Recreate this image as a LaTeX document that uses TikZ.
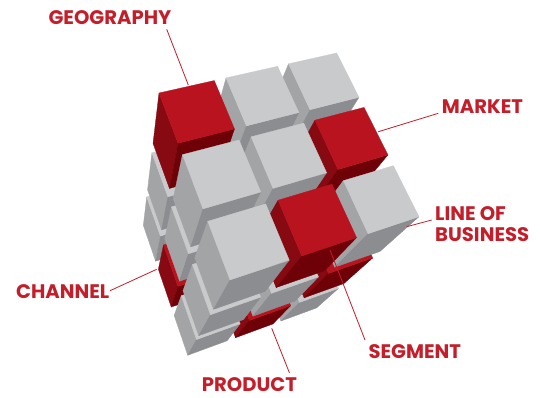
\documentclass[tikz,border=0pt]{standalone}
\usepackage{fontspec}
\setmainfont{Poppins}
\definecolor{fg}{HTML}{C9CACC}
\definecolor{lg}{HTML}{A3A4A6}
\definecolor{bg}{HTML}{8C8D90}
\definecolor{fr}{HTML}{B8131F}
\definecolor{lr}{HTML}{870A12}
\definecolor{br}{HTML}{6E0008}
\definecolor{lab}{HTML}{C41E2A}
\def\Kk{0.5}\def\Vx{112}\def\Vy{490}
% red blocks: i j l
\expandafter\def\csname rd000\endcsname{}
\expandafter\def\csname rd210\endcsname{}
\expandafter\def\csname rd120\endcsname{}
\expandafter\def\csname rd012\endcsname{}
\expandafter\def\csname rd122\endcsname{}
\expandafter\def\csname rd221\endcsname{}
\newcommand\prj[4]{%
 \pgfmathsetmacro\pS{(#2)/3.44}%
 \pgfmathsetmacro\pT{(#3)/3.44}%
 \pgfmathsetmacro\pM{\Kk*(#4)/3.44}%
 \pgfmathsetmacro\pW{1+0.10203*\pS-0.10422*\pT+\pM}%
 \pgfmathsetmacro\pX{(212.05*\pS+47.03*\pT+159+\Vx*\pM)/\pW}%
 \pgfmathsetmacro\pY{(-34.59*\pS+157.82*\pT+93+\Vy*\pM)/\pW}%
 \coordinate (#1) at (\pX,\pY);}
\newcommand\blk[3]{%
 \pgfmathsetmacro\xa{#1*1.22}\pgfmathsetmacro\xb{\xa+1}%
 \pgfmathsetmacro\ya{#2*1.22}\pgfmathsetmacro\yb{\ya+1}%
 \pgfmathsetmacro\za{#3*1.22}\pgfmathsetmacro\zb{\za+1}%
 \prj{A}{\xa}{\ya}{\za}\prj{B}{\xb}{\ya}{\za}\prj{C}{\xb}{\yb}{\za}\prj{D}{\xa}{\yb}{\za}%
 \prj{A2}{\xa}{\ya}{\zb}\prj{D2}{\xa}{\yb}{\zb}\prj{C2}{\xb}{\yb}{\zb}%
 \ifcsname rd#1#2#3\endcsname\def\cf{fr}\def\cl{lr}\def\cb{br}\else\def\cf{fg}\def\cl{lg}\def\cb{bg}\fi
 \filldraw[fill=\cl,draw=\cl,facepen] (A)--(D)--(D2)--(A2)--cycle;
 \filldraw[fill=\cb,draw=\cb,facepen] (D)--(C)--(C2)--(D2)--cycle;
 \filldraw[fill=\cf,draw=\cf,facepen] (A)--(B)--(C)--(D)--cycle;
}
\tikzset{
 facepen/.style={line width=0.3pt,line join=round},
 lbl/.style={anchor=base west,inner sep=0pt,text=lab,font=\fontsize{19.6}{22}\selectfont\bfseries},
 lead/.style={draw=lab,line width=0.8pt}
}
\begin{document}
\begin{tikzpicture}[x=1pt,y=-1pt]
\useasboundingbox (0,0) rectangle (540,398);
\fill[white] (0,0) rectangle (540,398);
\foreach \l in {2,1,0}{\foreach \i in {2,1,0}{\foreach \j in {0,1,2}{\blk{\i}{\j}{\l}}}}
% labels
\node[lbl] (geo) at (48.3,25) {GEOGRAPHY};
\node[lbl] (mkt) at (441.7,113.3) {MARKET};
\node[lbl] (lob1) at (435,220) {LINE OF};
\node[lbl] (lob2) at (435,241.7) {BUSINESS};
\node[lbl] (chn) at (16,298.3) {CHANNEL};
\node[lbl] (seg) at (368.3,358.3) {SEGMENT};
\node[lbl] (prd) at (201.7,391) {PRODUCT};
% leader ends
\coordinate (geoA) at (166.7,29.3); \coordinate (geoB) at (188.3,85);
\coordinate (mktA) at (438.3,113.3); \coordinate (mktB) at (378.3,131.7);
\coordinate (lobA) at (431.7,220); \coordinate (lobB) at (406.7,226.7);
\coordinate (chnA) at (110,290.7); \coordinate (chnB) at (156.7,269.3);
\coordinate (segA) at (365,340); \coordinate (segB) at (330,250);
\coordinate (prdA) at (289.5,373); \coordinate (prdB) at (271.7,328.3);
\draw[lead] (geoA) -- (geoB);
\draw[lead] (mktA) -- (mktB);
\draw[lead] (lobA) -- (lobB);
\draw[lead] (chnA) -- (chnB);
\draw[lead] (segA) -- (segB);
\draw[lead] (prdA) -- (prdB);
\end{tikzpicture}
\end{document}
